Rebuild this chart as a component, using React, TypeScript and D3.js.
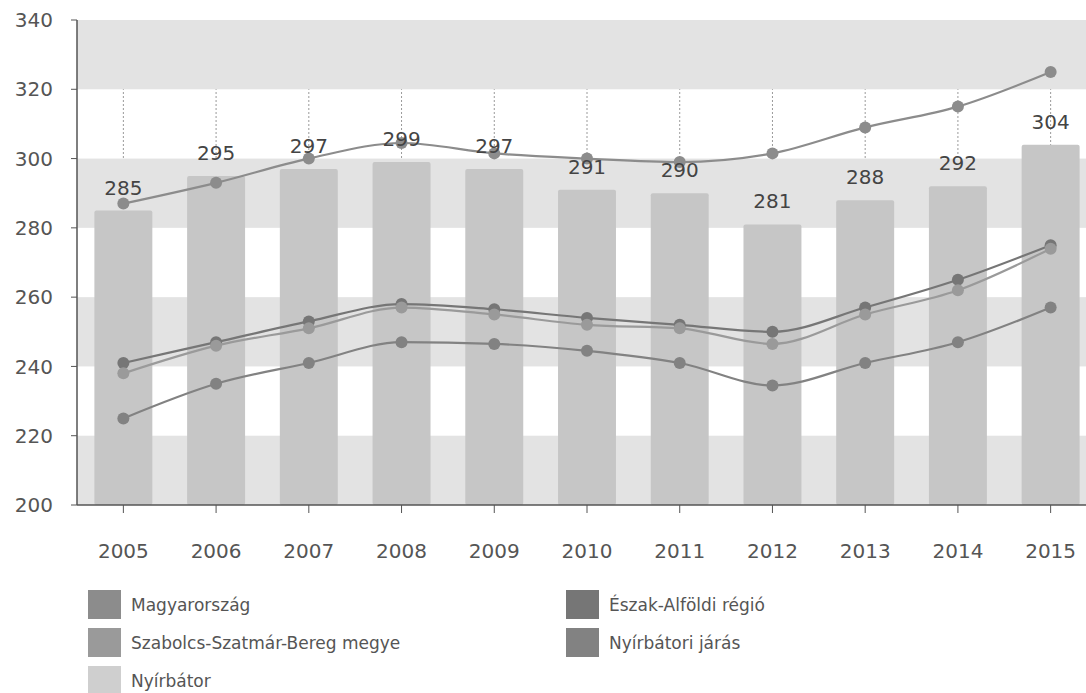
import React from "react";
import * as d3 from "d3";

const years = ["2005", "2006", "2007", "2008", "2009", "2010", "2011", "2012", "2013", "2014", "2015"];
const nyirbator = [285, 295, 297, 299, 297, 291, 290, 281, 288, 292, 304];
const magyarorszag = [287, 293, 300, 304.5, 301.5, 300, 299, 301.5, 309, 315, 325];
const eszakAlfoldi = [241, 247, 253, 258, 256.5, 254, 252, 250, 257, 265, 275];
const szabolcs = [238, 246, 251, 257, 255, 252, 251, 246.5, 255, 262, 274];
const nyirbatoriJaras = [225, 235, 241, 247, 246.5, 244.5, 241, 234.5, 241, 247, 257];
const yTicks = [200, 220, 240, 260, 280, 300, 320, 340];

const lineSeries = [
  { name: "Magyarország", values: magyarorszag, color: "#8c8c8c" },
  { name: "Észak-Alföldi régió", values: eszakAlfoldi, color: "#767676" },
  { name: "Szabolcs-Szatmár-Bereg megye", values: szabolcs, color: "#9a9a9a" },
  { name: "Nyírbátori járás", values: nyirbatoriJaras, color: "#828282" },
];
const barColor = "#c6c6c6";

const legendItems = [
  { name: "Magyarország", color: "#8c8c8c", col: 0, row: 0 },
  { name: "Szabolcs-Szatmár-Bereg megye", color: "#9a9a9a", col: 0, row: 1 },
  { name: "Nyírbátor", color: "#cfcfcf", col: 0, row: 2 },
  { name: "Észak-Alföldi régió", color: "#767676", col: 1, row: 0 },
  { name: "Nyírbátori járás", color: "#828282", col: 1, row: 1 },
];

const W = 1086;
const H = 693;
const left = 77;
const right = 1097;
const top = 20;
const bottom = 505;
const font = "'DejaVu Sans', Verdana, sans-serif";

export default function App() {
  const x = d3.scaleBand<string>().domain(years).range([left, right]).paddingInner(0.375).paddingOuter(0.1875);
  const y = d3.scaleLinear().domain([200, 340]).range([bottom, top]);
  const cx = (yr: string) => (x(yr) as number) + x.bandwidth() / 2;
  const line = d3
    .line<number>()
    .x((_, i) => cx(years[i]))
    .y((v) => y(v))
    .curve(d3.curveMonotoneX);

  const bands = [] as { y0: number; y1: number }[];
  for (let i = 0; i < yTicks.length - 1; i++) {
    if ((yTicks.length - 2 - i) % 2 === 0) bands.push({ y0: yTicks[i], y1: yTicks[i + 1] });
  }

  return (
    <svg width={W} height={H} style={{ position: "absolute", left: 0, top: 0, background: "#fff" }}>
      <defs>
        <clipPath id="plotclip">
          <rect x={left} y={top} width={W - left} height={bottom - top} />
        </clipPath>
      </defs>
      <g clipPath="url(#plotclip)">
        {years.map((yr) => (
          <line key={yr} x1={cx(yr)} x2={cx(yr)} y1={top} y2={bottom} stroke="#9a9a9a" strokeDasharray="2,2" strokeWidth={1} />
        ))}
        {bands.map((b, i) => (
          <rect key={i} x={left} y={y(b.y1)} width={right - left} height={y(b.y0) - y(b.y1)} fill="#e3e3e3" />
        ))}
        {years.map((yr, i) => (
          <rect key={yr} x={x(yr)} y={y(nyirbator[i])} width={x.bandwidth()} height={bottom - y(nyirbator[i])} fill={barColor} rx={2} />
        ))}
        {lineSeries.map((s) => (
          <g key={s.name}>
            <path d={line(s.values) as string} fill="none" stroke={s.color} strokeWidth={2.2} />
            {s.values.map((v, i) => (
              <circle key={i} cx={cx(years[i])} cy={y(v)} r={6} fill={s.color} />
            ))}
          </g>
        ))}
        {years.map((yr, i) => (
          <text key={yr} x={cx(yr)} y={y(nyirbator[i]) - 16} textAnchor="middle" fontFamily={font} fontSize={20} fill="#444">
            {nyirbator[i]}
          </text>
        ))}
      </g>
      <line x1={left} x2={left} y1={top} y2={bottom} stroke="#555" strokeWidth={1.5} />
      <line x1={left} x2={W} y1={bottom} y2={bottom} stroke="#555" strokeWidth={1.5} />
      {yTicks.map((t) => (
        <g key={t}>
          <line x1={left - 6} x2={left} y1={y(t)} y2={y(t)} stroke="#555" />
          <text x={53} y={y(t)} dy="0.36em" textAnchor="end" fontFamily={font} fontSize={20} fill="#555">
            {t}
          </text>
        </g>
      ))}
      {years.map((yr) => (
        <g key={yr}>
          <line x1={cx(yr)} x2={cx(yr)} y1={bottom} y2={bottom + 8} stroke="#555" />
          <text x={cx(yr)} y={551} dy="0.36em" textAnchor="middle" fontFamily={font} fontSize={20} fill="#555">
            {yr}
          </text>
        </g>
      ))}
      {legendItems.map((it) => {
        const lx = it.col === 0 ? 88 : 566;
        const ly = 590 + it.row * 38;
        return (
          <g key={it.name}>
            <rect x={lx} y={ly} width={33} height={29} fill={it.color} />
            <text x={lx + 43} y={ly + 14.5} dy="0.36em" fontFamily={font} fontSize={17} fill="#555">
              {it.name}
            </text>
          </g>
        );
      })}
    </svg>
  );
}
